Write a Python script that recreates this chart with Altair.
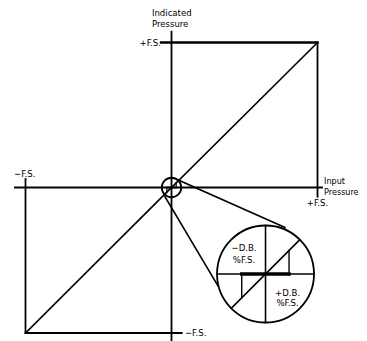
import altair as alt
import pandas as pd

# Diagram in units of full scale (F.S.); origin = zero input / zero indication
FS = 1.0
# main line segments: (x, y) -> (x2, y2), stroke width
seg_x  = [0.0,    -1.072, -0.072, FS,     -FS,    -FS,   -FS,  0.0]
seg_y  = [-1.055,  0.0,    FS,    FS,     -FS,    -FS,   -FS,  0.0]
seg_x2 = [0.0,     1.031,  FS,    FS,     -FS,    0.07,  0.0,  FS]
seg_y2 = [1.0745,  0.0,    FS,   -0.0632, 0.0586, -FS,   0.0,  FS]
seg_w  = [1.8,     1.8,    2.3,   1.8,    1.8,    1.8,   1.6,  1.6]

# magnified inset: outline axes, diagonal, dead-band detail, pointer lines, mini copy
inset_cx, inset_cy = 0.644, -0.5945
in_x  = [0.312,   0.644,   0.409,   0.481,   0.481,   0.805,   0.0466, -0.0445, -0.032, -0.032,  0.032]
in_y  = [-0.5945, -0.2612, -0.8302, -0.5945, -0.5945, -0.433,   0.0517, -0.0632,  0.0,    0.0,    0.0]
in_x2 = [0.976,   0.644,   0.879,   0.805,   0.481,   0.805,   0.777,   0.3185,  0.032, -0.032,  0.032]
in_y2 = [-0.5945, -0.9278, -0.3588, -0.5945, -0.7581, -0.6014, -0.2749, -0.677,   0.0,   -0.036,  0.034]
in_w  = [1.6,     1.6,     1.6,     3.4,     1.4,     1.4,     1.6,     1.6,     1.8,    1.2,    1.2]

circ_x = [0.0, inset_cx]
circ_y = [0.0, inset_cy]
circ_size = [380, 9400]

# labels
lab_text  = ["Indicated", "Pressure", "−F.S.", "−F.S."]
lab_x     = [-0.134, -0.134, -1.079, 0.092]
lab_y     = [1.2034, 1.1276, 0.0931, -1.0]
slab_text = ["Input", "Pressure"]
slab_x    = [1.045, 1.045]
slab_y    = [0.0414, -0.0275]
rlab_text = ["+F.S."]
rlab_x    = [-0.072]
rlab_y    = [FS]
clab_text = ["+F.S.", "−D.B.", "%F.S.", "+D.B.", "%F.S."]
clab_x    = [FS, 0.497, 0.497, 0.795, 0.795]
clab_y    = [-0.1065, -0.4179, -0.4983, -0.7271, -0.7959]

W, H = 351, 333
xs = alt.Scale(domain=[-163.5 / 146, -163.5 / 146 + W / 146], nice=False, zero=False)
ys = alt.Scale(domain=[-1.055, 0.0, 1.238], range=[H, 179.5, 0], nice=False, zero=False)
FONT = "Liberation Sans Narrow, DejaVu Sans Condensed, Roboto Condensed, Liberation Sans, sans-serif"

segs = pd.DataFrame({"x": seg_x + in_x, "y": seg_y + in_y,
                     "x2": seg_x2 + in_x2, "y2": seg_y2 + in_y2,
                     "w": seg_w + in_w})
circles = pd.DataFrame({"x": circ_x, "y": circ_y, "s": circ_size})
labs = pd.DataFrame({"t": lab_text, "x": lab_x, "y": lab_y})
slabs = pd.DataFrame({"t": slab_text, "x": slab_x, "y": slab_y})
rlabs = pd.DataFrame({"t": rlab_text, "x": rlab_x, "y": rlab_y})
clabs = pd.DataFrame({"t": clab_text, "x": clab_x, "y": clab_y})

X = lambda f: alt.X(f, type="quantitative", scale=xs, axis=None)
Y = lambda f: alt.Y(f, type="quantitative", scale=ys, axis=None)

lines = alt.Chart(segs).mark_rule(color="black", strokeCap="square").encode(
    x=X("x"), y=Y("y"), x2="x2", y2="y2",
    strokeWidth=alt.StrokeWidth("w:Q", scale=None))

rings = alt.Chart(circles).mark_point(shape="circle", filled=False, color="black",
                                      strokeWidth=1.8, opacity=1).encode(
    x=X("x"), y=Y("y"), size=alt.Size("s:Q", scale=None))

def txt(df, align, size=9.5):
    return alt.Chart(df).mark_text(align=align, baseline="middle", font=FONT,
                                   fontSize=size, color="black").encode(
        x=X("x"), y=Y("y"), text="t:N")

chart = alt.layer(lines, rings, txt(labs, "left"), txt(slabs, "left", 9),
                  txt(rlabs, "right"), txt(clabs, "center")).properties(
    width=W, height=H, padding=0, autosize=alt.AutoSizeParams(type="none")
).configure_view(stroke=None)

chart.save("out.html", embed_options={"renderer": "svg", "actions": False})
